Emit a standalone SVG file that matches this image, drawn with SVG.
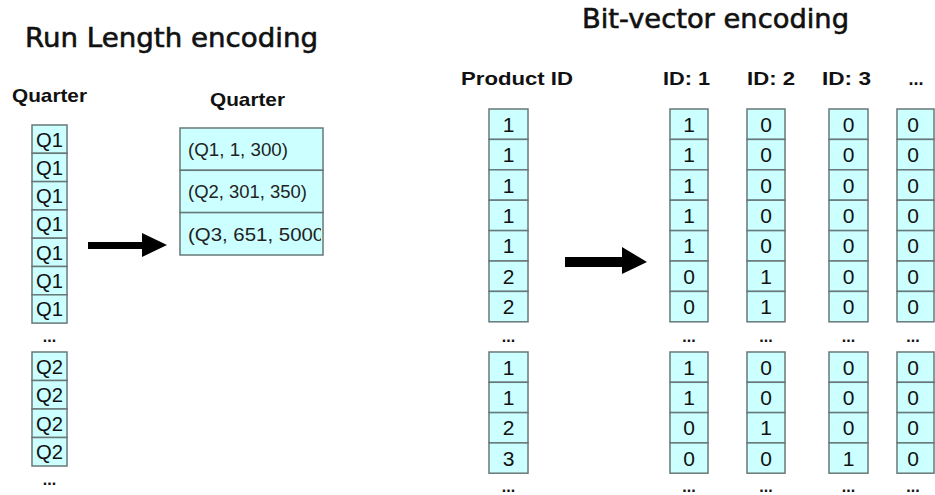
<svg xmlns="http://www.w3.org/2000/svg" width="935" height="495" viewBox="0 0 935 495">
<style>
.c{fill:#ccffff;stroke:#687878;stroke-width:1.5}
.t{font-family:"Liberation Sans",Arial,sans-serif;font-size:21px;fill:#111;text-anchor:middle}
.tl{font-family:"Liberation Sans",Arial,sans-serif;font-size:18.5px;fill:#222}
.h{font-family:"Liberation Sans",Arial,sans-serif;font-size:19px;font-weight:bold;fill:#111}
.ti{font-family:"DejaVu Sans","Liberation Sans",sans-serif;font-size:27px;fill:#111;stroke:#111;stroke-width:0.6}
.d{font-family:"Liberation Sans",Arial,sans-serif;font-size:16px;font-weight:bold;fill:#111;text-anchor:middle}
.ar{fill:#000}
</style>
<defs>
<clipPath id="clip3"><rect x="180" y="212" width="141" height="43"/></clipPath>
</defs>
<rect width="935" height="495" fill="#fff"/>
<text class="ti" x="25" y="47" textLength="293" lengthAdjust="spacingAndGlyphs">Run Length encoding</text>
<text class="ti" x="582" y="28" textLength="267" lengthAdjust="spacingAndGlyphs">Bit-vector encoding</text>

<g id="left-col">
<text class="h" x="12" y="102" textLength="75" lengthAdjust="spacingAndGlyphs">Quarter</text>
<rect class="c" x="32" y="125" width="35" height="28.3"/><text class="t" x="49.5" y="146.5" textLength="27" lengthAdjust="spacingAndGlyphs">Q1</text>
<rect class="c" x="32" y="153.3" width="35" height="28.3"/><text class="t" x="49.5" y="174.8" textLength="27" lengthAdjust="spacingAndGlyphs">Q1</text>
<rect class="c" x="32" y="181.6" width="35" height="28.3"/><text class="t" x="49.5" y="203.1" textLength="27" lengthAdjust="spacingAndGlyphs">Q1</text>
<rect class="c" x="32" y="209.9" width="35" height="28.3"/><text class="t" x="49.5" y="231.4" textLength="27" lengthAdjust="spacingAndGlyphs">Q1</text>
<rect class="c" x="32" y="238.2" width="35" height="28.3"/><text class="t" x="49.5" y="259.7" textLength="27" lengthAdjust="spacingAndGlyphs">Q1</text>
<rect class="c" x="32" y="266.5" width="35" height="28.3"/><text class="t" x="49.5" y="288" textLength="27" lengthAdjust="spacingAndGlyphs">Q1</text>
<rect class="c" x="32" y="294.8" width="35" height="28.3"/><text class="t" x="49.5" y="316.3" textLength="27" lengthAdjust="spacingAndGlyphs">Q1</text>
<text class="d" x="49.5" y="342">...</text>
<rect class="c" x="32" y="352" width="35" height="28.5"/><text class="t" x="49.5" y="373.5" textLength="27" lengthAdjust="spacingAndGlyphs">Q2</text>
<rect class="c" x="32" y="380.5" width="35" height="28.5"/><text class="t" x="49.5" y="402" textLength="27" lengthAdjust="spacingAndGlyphs">Q2</text>
<rect class="c" x="32" y="409" width="35" height="28.5"/><text class="t" x="49.5" y="430.5" textLength="27" lengthAdjust="spacingAndGlyphs">Q2</text>
<rect class="c" x="32" y="437.5" width="35" height="28.5"/><text class="t" x="49.5" y="459" textLength="27" lengthAdjust="spacingAndGlyphs">Q2</text>
<text class="d" x="49.5" y="485">...</text>
</g>

<g id="rle-table">
<text class="h" x="210" y="106" textLength="75" lengthAdjust="spacingAndGlyphs">Quarter</text>
<rect class="c" x="180" y="128" width="143" height="42.3"/><text class="tl" x="188" y="156" textLength="100" lengthAdjust="spacingAndGlyphs">(Q1, 1, 300)</text>
<rect class="c" x="180" y="170.3" width="143" height="42.3"/><text class="tl" x="188" y="198" textLength="119" lengthAdjust="spacingAndGlyphs">(Q2, 301, 350)</text>
<rect class="c" x="180" y="212.6" width="143" height="42.4"/><text class="tl" x="188" y="241" textLength="143" lengthAdjust="spacingAndGlyphs" clip-path="url(#clip3)">(Q3, 651, 5000)</text>
</g>

<g id="product-col">
<text class="h" x="461" y="85" textLength="112" lengthAdjust="spacingAndGlyphs">Product ID</text>
<rect class="c" x="489" y="109" width="39" height="30.4"/><text class="t" x="508.5" y="131.7">1</text>
<rect class="c" x="489" y="139.4" width="39" height="30.4"/><text class="t" x="508.5" y="162.1">1</text>
<rect class="c" x="489" y="169.8" width="39" height="30.4"/><text class="t" x="508.5" y="192.5">1</text>
<rect class="c" x="489" y="200.2" width="39" height="30.4"/><text class="t" x="508.5" y="222.9">1</text>
<rect class="c" x="489" y="230.6" width="39" height="30.4"/><text class="t" x="508.5" y="253.3">1</text>
<rect class="c" x="489" y="261" width="39" height="30.4"/><text class="t" x="508.5" y="283.7">2</text>
<rect class="c" x="489" y="291.4" width="39" height="30.4"/><text class="t" x="508.5" y="314.1">2</text>
<text class="d" x="508.5" y="342">...</text>
<rect class="c" x="489" y="352" width="39" height="30.3"/><text class="t" x="508.5" y="374.6">1</text>
<rect class="c" x="489" y="382.3" width="39" height="30.3"/><text class="t" x="508.5" y="404.9">1</text>
<rect class="c" x="489" y="412.6" width="39" height="30.3"/><text class="t" x="508.5" y="435.2">2</text>
<rect class="c" x="489" y="442.9" width="39" height="30.3"/><text class="t" x="508.5" y="465.5">3</text>
<text class="d" x="508.5" y="492">...</text>
</g>

<g id="id1-col">
<text class="h" x="663" y="85" textLength="47" lengthAdjust="spacingAndGlyphs">ID: 1</text>
<rect class="c" x="670" y="109" width="38" height="30.4"/><text class="t" x="689" y="131.7">1</text>
<rect class="c" x="670" y="139.4" width="38" height="30.4"/><text class="t" x="689" y="162.1">1</text>
<rect class="c" x="670" y="169.8" width="38" height="30.4"/><text class="t" x="689" y="192.5">1</text>
<rect class="c" x="670" y="200.2" width="38" height="30.4"/><text class="t" x="689" y="222.9">1</text>
<rect class="c" x="670" y="230.6" width="38" height="30.4"/><text class="t" x="689" y="253.3">1</text>
<rect class="c" x="670" y="261" width="38" height="30.4"/><text class="t" x="689" y="283.7">0</text>
<rect class="c" x="670" y="291.4" width="38" height="30.4"/><text class="t" x="689" y="314.1">0</text>
<text class="d" x="689" y="342">...</text>
<rect class="c" x="670" y="352" width="38" height="30.3"/><text class="t" x="689" y="374.6">1</text>
<rect class="c" x="670" y="382.3" width="38" height="30.3"/><text class="t" x="689" y="404.9">1</text>
<rect class="c" x="670" y="412.6" width="38" height="30.3"/><text class="t" x="689" y="435.2">0</text>
<rect class="c" x="670" y="442.9" width="38" height="30.3"/><text class="t" x="689" y="465.5">0</text>
<text class="d" x="689" y="492">...</text>
</g>

<g id="id2-col">
<text class="h" x="747" y="85" textLength="48" lengthAdjust="spacingAndGlyphs">ID: 2</text>
<rect class="c" x="747" y="109" width="38" height="30.4"/><text class="t" x="766" y="131.7">0</text>
<rect class="c" x="747" y="139.4" width="38" height="30.4"/><text class="t" x="766" y="162.1">0</text>
<rect class="c" x="747" y="169.8" width="38" height="30.4"/><text class="t" x="766" y="192.5">0</text>
<rect class="c" x="747" y="200.2" width="38" height="30.4"/><text class="t" x="766" y="222.9">0</text>
<rect class="c" x="747" y="230.6" width="38" height="30.4"/><text class="t" x="766" y="253.3">0</text>
<rect class="c" x="747" y="261" width="38" height="30.4"/><text class="t" x="766" y="283.7">1</text>
<rect class="c" x="747" y="291.4" width="38" height="30.4"/><text class="t" x="766" y="314.1">1</text>
<text class="d" x="766" y="342">...</text>
<rect class="c" x="747" y="352" width="38" height="30.3"/><text class="t" x="766" y="374.6">0</text>
<rect class="c" x="747" y="382.3" width="38" height="30.3"/><text class="t" x="766" y="404.9">0</text>
<rect class="c" x="747" y="412.6" width="38" height="30.3"/><text class="t" x="766" y="435.2">1</text>
<rect class="c" x="747" y="442.9" width="38" height="30.3"/><text class="t" x="766" y="465.5">0</text>
<text class="d" x="766" y="492">...</text>
</g>

<g id="id3-col">
<text class="h" x="822" y="85" textLength="49" lengthAdjust="spacingAndGlyphs">ID: 3</text>
<rect class="c" x="829" y="109" width="39" height="30.4"/><text class="t" x="848.5" y="131.7">0</text>
<rect class="c" x="829" y="139.4" width="39" height="30.4"/><text class="t" x="848.5" y="162.1">0</text>
<rect class="c" x="829" y="169.8" width="39" height="30.4"/><text class="t" x="848.5" y="192.5">0</text>
<rect class="c" x="829" y="200.2" width="39" height="30.4"/><text class="t" x="848.5" y="222.9">0</text>
<rect class="c" x="829" y="230.6" width="39" height="30.4"/><text class="t" x="848.5" y="253.3">0</text>
<rect class="c" x="829" y="261" width="39" height="30.4"/><text class="t" x="848.5" y="283.7">0</text>
<rect class="c" x="829" y="291.4" width="39" height="30.4"/><text class="t" x="848.5" y="314.1">0</text>
<text class="d" x="848.5" y="342">...</text>
<rect class="c" x="829" y="352" width="39" height="30.3"/><text class="t" x="848.5" y="374.6">0</text>
<rect class="c" x="829" y="382.3" width="39" height="30.3"/><text class="t" x="848.5" y="404.9">0</text>
<rect class="c" x="829" y="412.6" width="39" height="30.3"/><text class="t" x="848.5" y="435.2">0</text>
<rect class="c" x="829" y="442.9" width="39" height="30.3"/><text class="t" x="848.5" y="465.5">1</text>
<text class="d" x="848.5" y="492">...</text>
</g>

<g id="more-col">
<text class="d" x="916" y="85" style="font-size:18px">...</text>
<rect class="c" x="897" y="109" width="37" height="30.4"/><text class="t" x="913" y="131.7">0</text>
<rect class="c" x="897" y="139.4" width="37" height="30.4"/><text class="t" x="913" y="162.1">0</text>
<rect class="c" x="897" y="169.8" width="37" height="30.4"/><text class="t" x="913" y="192.5">0</text>
<rect class="c" x="897" y="200.2" width="37" height="30.4"/><text class="t" x="913" y="222.9">0</text>
<rect class="c" x="897" y="230.6" width="37" height="30.4"/><text class="t" x="913" y="253.3">0</text>
<rect class="c" x="897" y="261" width="37" height="30.4"/><text class="t" x="913" y="283.7">0</text>
<rect class="c" x="897" y="291.4" width="37" height="30.4"/><text class="t" x="913" y="314.1">0</text>
<text class="d" x="913" y="342">...</text>
<rect class="c" x="897" y="352" width="37" height="30.3"/><text class="t" x="913" y="374.6">0</text>
<rect class="c" x="897" y="382.3" width="37" height="30.3"/><text class="t" x="913" y="404.9">0</text>
<rect class="c" x="897" y="412.6" width="37" height="30.3"/><text class="t" x="913" y="435.2">0</text>
<rect class="c" x="897" y="442.9" width="37" height="30.3"/><text class="t" x="913" y="465.5">0</text>
<text class="d" x="913" y="492">...</text>
</g>

<g id="connectors">
<polygon class="ar" points="88,242 142,242 142,233 167,245 142,257 142,249 88,249"/>
<polygon class="ar" points="565,257 622,257 622,247 647,262 622,274 622,267 565,267"/>
</g>
</svg>
